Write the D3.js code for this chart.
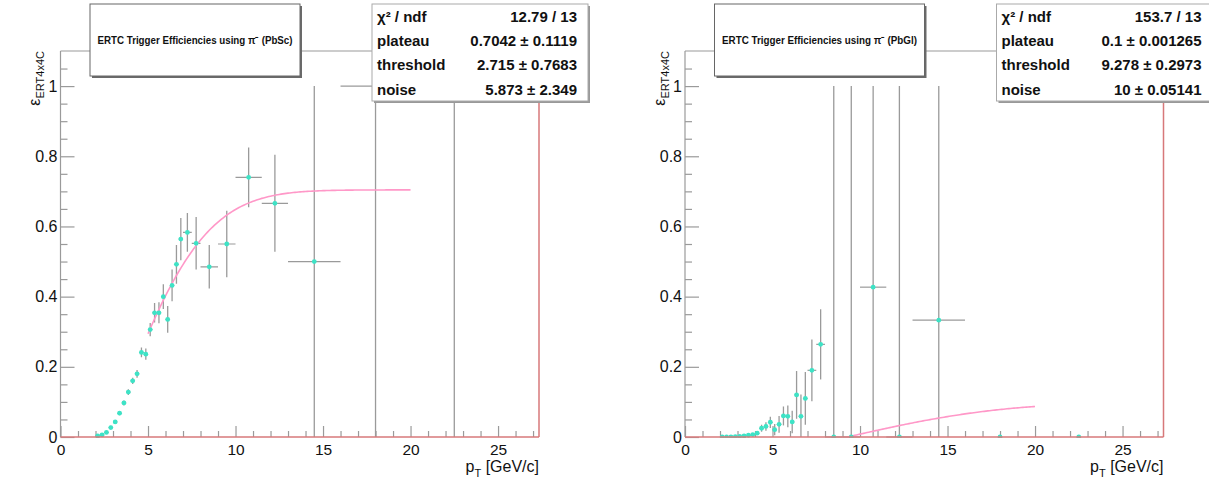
<!DOCTYPE html>
<html><head><meta charset="utf-8">
<script src="https://cdn.jsdelivr.net/npm/d3@7"></script>
<style>
html,body{margin:0;padding:0;background:#fff;}
svg{display:block;font-family:"Liberation Sans",Arial,Helvetica,sans-serif;}
</style></head>
<body>
<svg id="c" width="1209" height="483"></svg>
<script>
// ---------- DATA ----------
const binCenters = [2.125,2.375,2.625,2.875,3.125,3.375,3.625,3.875,4.125,4.375,4.625,4.875,
  5.125,5.375,5.625,5.875,6.125,6.375,6.625,6.875,7.25,7.75,8.5,9.5,10.75,12.25,14.5,18,22.5];
const binHalfWidths = [0.125,0.125,0.125,0.125,0.125,0.125,0.125,0.125,0.125,0.125,0.125,0.125,
  0.125,0.125,0.125,0.125,0.125,0.125,0.125,0.125,0.25,0.25,0.5,0.5,0.75,0.75,1.5,2,2.5];

// PbSc efficiencies
const pbscEff  = [0.003,0.006,0.013,0.027,0.043,0.068,0.097,0.128,0.160,0.180,0.241,0.236,
  0.306,0.354,0.354,0.400,0.335,0.432,0.492,0.564,0.583,0.552,0.485,0.550,0.740,0.666,0.500,1.000,1.000];
const pbscErrLo = [0.003,0.004,0.004,0.005,0.005,0.006,0.007,0.008,0.009,0.011,0.014,0.016,
  0.019,0.028,0.030,0.035,0.038,0.045,0.055,0.060,0.055,0.075,0.062,0.095,0.085,0.138,0.500,1.000,1.000];
const pbscErrHi = [0.003,0.004,0.004,0.005,0.005,0.006,0.007,0.008,0.009,0.011,0.014,0.016,
  0.019,0.028,0.030,0.035,0.038,0.045,0.055,0.060,0.055,0.075,0.062,0.095,0.085,0.138,0.500,0.000,0.000];

// PbGl efficiencies
const pbglEff  = [0.000,0.000,0.000,0.001,0.002,0.003,0.005,0.007,0.011,0.025,0.030,0.042,
  0.021,0.036,0.060,0.059,0.043,0.120,0.059,0.110,0.190,0.264,0.000,0.000,0.427,0.000,0.333,0.000,0.000];
const pbglErrLo = [0.000,0.000,0.000,0.001,0.002,0.002,0.003,0.003,0.004,0.010,0.012,0.016,
  0.016,0.024,0.027,0.031,0.032,0.068,0.059,0.075,0.088,0.100,0.000,0.000,0.427,0.000,0.333,0.000,0.000];
const pbglErrHi = [0.000,0.000,0.000,0.001,0.002,0.002,0.003,0.003,0.004,0.010,0.012,0.016,
  0.016,0.024,0.027,0.031,0.032,0.068,0.062,0.075,0.088,0.100,1.000,1.000,0.573,1.000,0.667,0.000,0.000];

// fit parameters: plateau, threshold, noise ; fit range
const pbscFit = [0.7042, 2.715, 5.873];
const pbglFit = [0.1, 9.278, 10];
const fitRange = [5, 20];

const statLabels = ["χ² / ndf","plateau","threshold","noise"];
const pbscStats = ["12.79 / 13","0.7042 ± 0.1119","2.715 ± 0.7683","5.873 ± 2.349"];
const pbglStats = ["153.7 / 13","0.1 ± 0.001265","9.278 ± 0.2973","10 ± 0.05141"];

const xMajorTicks = [0,5,10,15,20,25];
const xMinorTicks = [1,2,3,4,6,7,8,9,11,12,13,14,16,17,18,19,21,22,23,24,26,27];
const yMajorTicks = [0,0.2,0.4,0.6,0.8,1];
const yMinorTicks = [0.05,0.1,0.15,0.25,0.3,0.35,0.45,0.5,0.55,0.65,0.7,0.75,0.85,0.9,0.95,1.05];
const yTickLabels = ["0","0.2","0.4","0.6","0.8","1"];
const xDomain = [0, 27.34];
const yDomain = [0, 1.1];

// ---------- DRAW ----------
function erf(x){
  const s = x<0?-1:1; x=Math.abs(x);
  const t = 1/(1+0.3275911*x);
  const y = 1-(((((1.061405429*t-1.453152027)*t)+1.421413741)*t-0.284496736)*t+0.254829592)*t*Math.exp(-x*x);
  return s*y;
}

const svg = d3.select("#c");
const TXT = "#111", GRID="#9a9a9a", RED="#d7787a", PT="#3de3c6", ERR="#9a9a9a", FIT="#ff98c8";

function panel(idx, off, title, eff, lo, hi, fit, stats){
  const x = d3.scaleLinear().domain(xDomain).range([60.5+off, 539+off]);
  const y = d3.scaleLinear().domain(yDomain).range([437, 51]);
  const g = svg.append("g");
  const clipId = "clip"+idx;
  svg.append("clipPath").attr("id",clipId).append("rect")
    .attr("x",x(0)).attr("y",y(1.1)).attr("width",x(xDomain[1])-x(0)).attr("height",y(0)-y(1.1)+1);

  // frame top & left
  g.append("line").attr("x1",x(0)).attr("x2",x(xDomain[1])).attr("y1",y(1.1)).attr("y2",y(1.1))
    .attr("stroke",GRID).attr("stroke-width",1.2);
  g.append("line").attr("x1",x(0)).attr("x2",x(0)).attr("y1",y(1.1)).attr("y2",y(0))
    .attr("stroke",GRID).attr("stroke-width",1.2);

  // x axis ticks
  const ax = g.append("g").attr("transform",`translate(0,${y(0)})`);
  ax.call(d3.axisBottom(x).tickValues(xMajorTicks).tickSize(-11).tickPadding(7).tickFormat(d=>String(d)));
  ax.select(".domain").remove();
  ax.selectAll(".tick line").attr("stroke",GRID).attr("stroke-width",1.2);
  ax.selectAll(".tick text").attr("fill",TXT).style("font-size","15.5px").attr("dy","0.71em")
    .style("font-family","'Liberation Sans',Arial,sans-serif");
  const axm = g.append("g").attr("transform",`translate(0,${y(0)})`);
  axm.call(d3.axisBottom(x).tickValues(xMinorTicks).tickSize(-6).tickFormat(""));
  axm.select(".domain").remove();
  axm.selectAll(".tick line").attr("stroke",GRID).attr("stroke-width",1.2);

  // y axis ticks
  const ay = g.append("g").attr("transform",`translate(${x(0)},0)`);
  ay.call(d3.axisLeft(y).tickValues(yMajorTicks).tickSize(-14).tickPadding(3)
    .tickFormat((d,i)=>yTickLabels[i]));
  ay.select(".domain").remove();
  ay.selectAll(".tick line").attr("stroke",GRID).attr("stroke-width",1.2);
  ay.selectAll(".tick text").attr("fill",TXT).style("font-size","16px")
    .style("font-family","'Liberation Sans',Arial,sans-serif");
  const aym = g.append("g").attr("transform",`translate(${x(0)},0)`);
  aym.call(d3.axisLeft(y).tickValues(yMinorTicks).tickSize(-7).tickFormat(""));
  aym.select(".domain").remove();
  aym.selectAll(".tick line").attr("stroke",GRID).attr("stroke-width",1.2);

  // axis titles
  const xt = g.append("text").attr("x",x(xDomain[1])).attr("y",472).attr("text-anchor","end")
    .attr("fill",TXT).style("font-size","16px");
  xt.append("tspan").text("p");
  xt.append("tspan").text("T").style("font-size","11px").attr("dy",5);
  xt.append("tspan").text(" [GeV/c]").attr("dy",-5);

  const yt = g.append("text").attr("transform",`translate(${40+off},51) rotate(-90)`)
    .attr("text-anchor","end").attr("fill",TXT).style("font-size","16px");
  yt.append("tspan").text("ε");
  yt.append("tspan").text("ERT4x4C").style("font-size","11px").attr("dy",4);

  // data
  const pts = binCenters.map((c,i)=>({x:c, ex:binHalfWidths[i], y:eff[i], lo:lo[i], hi:hi[i]}));
  const pg = g.append("g").attr("clip-path",`url(#${clipId})`);
  pg.selectAll("line.ex").data(pts.filter(d=>d.y>0 || d.hi>0)).join("line").attr("class","ex")
    .attr("x1",d=>x(d.x-d.ex)).attr("x2",d=>x(d.x+d.ex)).attr("y1",d=>y(d.y)).attr("y2",d=>y(d.y))
    .attr("stroke",ERR).attr("stroke-width",1.2);
  pg.selectAll("line.ey").data(pts.filter(d=>d.lo>0||d.hi>0)).join("line").attr("class","ey")
    .attr("x1",d=>x(d.x)).attr("x2",d=>x(d.x))
    .attr("y1",d=>y(Math.max(0,d.y-d.lo))).attr("y2",d=>y(d.y+d.hi))
    .attr("stroke",ERR).attr("stroke-width",1.3);

  // fit curve
  const fx = d3.range(fitRange[0], fitRange[1]+0.001, 0.1);
  const line = d3.line().x(d=>x(d)).y(d=>y(fit[0]*erf((d-fit[1])/fit[2])));
  pg.append("path").datum(fx.filter(d=>fit[0]*erf((d-fit[1])/fit[2])>=0)).attr("d",line)
    .attr("fill","none").attr("stroke",FIT).attr("stroke-width",1.6);

  pg.selectAll("circle").data(pts).join("circle")
    .attr("cx",d=>x(d.x)).attr("cy",d=>y(d.y)).attr("r",2.4).attr("fill",PT);

  // frame bottom & right (red)
  g.append("line").attr("x1",x(0)).attr("x2",x(xDomain[1])).attr("y1",y(0)).attr("y2",y(0))
    .attr("stroke",RED).attr("stroke-width",1.5);
  g.append("line").attr("x1",x(xDomain[1])).attr("x2",x(xDomain[1])).attr("y1",y(1.1)).attr("y2",y(0))
    .attr("stroke",RED).attr("stroke-width",1.5);

  // title box
  const tb = {x:90+off, y:4, w:210, h:72};
  g.append("rect").attr("x",tb.x+2).attr("y",tb.y+2).attr("width",tb.w).attr("height",tb.h).attr("fill","#6a6a6a");
  g.append("rect").attr("x",tb.x).attr("y",tb.y).attr("width",tb.w).attr("height",tb.h)
    .attr("fill","#fff").attr("stroke","#666").attr("stroke-width",1);
  g.append("text").attr("x",tb.x+tb.w/2).attr("y",44).attr("text-anchor","middle")
    .attr("fill",TXT).style("font-size","11px").style("font-weight","bold")
    .attr("textLength",195).attr("lengthAdjust","spacingAndGlyphs")
    .text("ERTC Trigger Efficiencies using π⁻ ("+title+")");

  // stats box
  const sb = {x:372+off, y:4, w:216, h:97};
  g.append("rect").attr("x",sb.x+2).attr("y",sb.y+2).attr("width",sb.w).attr("height",sb.h).attr("fill","#999");
  g.append("rect").attr("x",sb.x).attr("y",sb.y).attr("width",sb.w).attr("height",sb.h)
    .attr("fill","#fff").attr("stroke","#aaa").attr("stroke-width",1);
  const rowY = [21.5, 45.5, 70, 94.5];
  statLabels.forEach((lab,i)=>{
    g.append("text").attr("x",sb.x+5).attr("y",rowY[i]).attr("fill",TXT)
      .style("font-size","15px").style("font-weight","bold").text(lab);
    g.append("text").attr("x",sb.x+205).attr("y",rowY[i]).attr("fill",TXT).attr("text-anchor","end")
      .style("font-size","15px").style("font-weight","bold").text(stats[i]);
  });
}

panel(0, 0, "PbSc", pbscEff, pbscErrLo, pbscErrHi, pbscFit, pbscStats);
panel(1, 624.5, "PbGl", pbglEff, pbglErrLo, pbglErrHi, pbglFit, pbglStats);
</script>
</body></html>
